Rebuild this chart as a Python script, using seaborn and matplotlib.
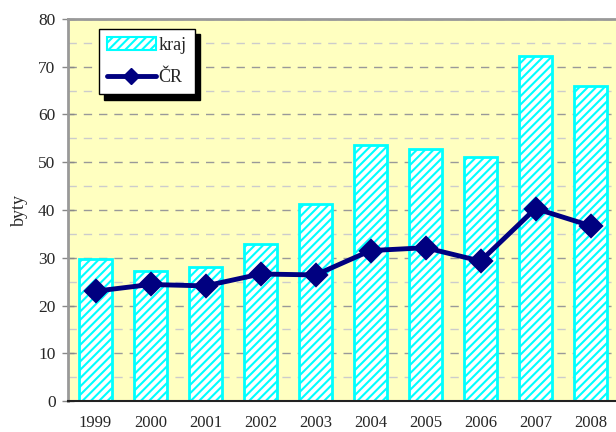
import seaborn as sns
import matplotlib.pyplot as plt
import pandas as pd
from matplotlib.ticker import MultipleLocator, FixedLocator
from matplotlib.patches import Patch
from matplotlib.lines import Line2D

# hodnoty
roky = ['1999', '2000', '2001', '2002', '2003', '2004', '2005', '2006', '2007', '2008']
kraj = [29.8, 27.2, 28.1, 32.8, 41.2, 53.7, 52.8, 51.0, 72.3, 66.0]
cr = [23.0, 24.4, 24.1, 26.6, 26.4, 31.5, 32.1, 29.3, 40.3, 36.7]

df = pd.DataFrame({'rok': roky, 'kraj': kraj, 'cr': cr})

sns.set_style('white')
plt.rcParams['font.family'] = ['Liberation Serif', 'DejaVu Serif']
plt.rcParams['hatch.linewidth'] = 1.5

fig = plt.figure(figsize=(6.16, 4.32), dpi=100)
ax = fig.add_axes([68 / 616, 31 / 432, 550 / 616, 382 / 432])
ax.set_facecolor('#FFFFC0')

sns.barplot(data=df, x='rok', y='kraj', ax=ax, width=0.6,
            facecolor='white', edgecolor='#00FFFF', linewidth=2, hatch='////')
sns.pointplot(data=df, x='rok', y='cr', ax=ax, color='#000080',
              markers='D', markersize=10, linewidth=3.5)

ax.set_ylim(0, 80)
ax.set_xlim(-0.5, 9.5)
ax.yaxis.set_major_locator(MultipleLocator(10))
ax.yaxis.set_minor_locator(MultipleLocator(5))
ax.grid(axis='y', which='major', color='#999999', linestyle=(0, (6, 5)), linewidth=1)
ax.grid(axis='y', which='minor', color='#CCCCCC', linestyle=(0, (6, 5)), linewidth=1)
ax.set_axisbelow(True)

ax.xaxis.set_minor_locator(FixedLocator([i - 0.5 for i in range(len(roky))]))
ax.tick_params(axis='x', which='major', length=0, pad=10, labelsize=12)
ax.tick_params(axis='x', which='minor', direction='inout', length=8, width=1, color='#222222')
ax.tick_params(axis='y', which='major', direction='inout', length=8, width=1,
               color='#888888', labelsize=12.5, left=True, pad=5)
ax.tick_params(axis='y', which='minor', length=0)

for s in ['top', 'left']:
    ax.spines[s].set_color('#999999')
    ax.spines[s].set_linewidth(2)
ax.spines['right'].set_visible(False)
ax.spines['bottom'].set_color('#222222')
ax.spines['bottom'].set_linewidth(1.5)

ax.set_xlabel('')
ax.set_ylabel('byty', fontsize=13, labelpad=7)

handles = [
    Patch(facecolor='white', edgecolor='#00FFFF', hatch='////', linewidth=1.5),
    Line2D([], [], color='#000080', marker='D', markersize=8, linewidth=3.5),
]
leg = ax.legend(handles, ['kraj', 'ČR'], loc='upper left', bbox_to_anchor=(0.056, 0.975),
                fancybox=False, edgecolor='black', framealpha=1, fontsize=13,
                handlelength=2.7, handletextpad=0.15, labelspacing=0.85,
                borderpad=0.45, borderaxespad=0,
                shadow={'color': 'black', 'alpha': 1, 'ox': 4, 'oy': -4})
leg.get_frame().set_linewidth(1)

plt.savefig('out.png', dpi=100)
